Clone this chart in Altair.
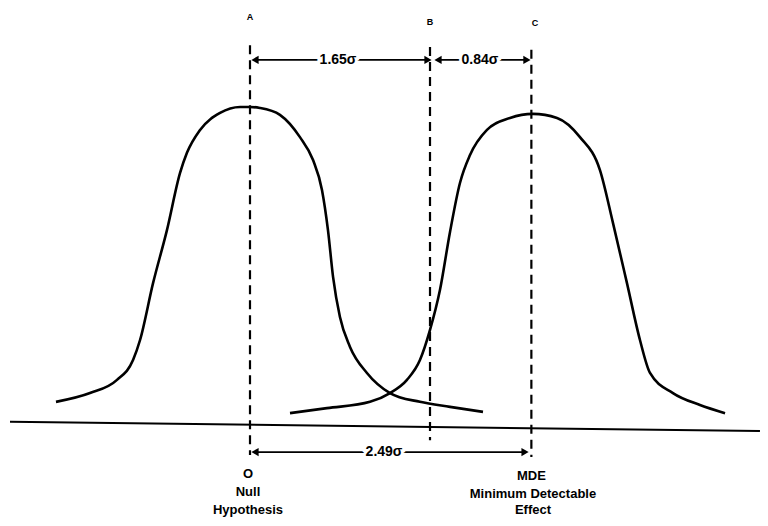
import altair as alt
import pandas as pd

# ---- data (x in sigma units from the null mean, y = relative curve height) ----
left_x = [-1.717, -1.416, -1.177, -1.035, -0.973, -0.858, -0.735, -0.619, -0.558, -0.442,
          -0.265, -0.088, 0.0, 0.088, 0.265, 0.442, 0.558, 0.637, 0.690, 0.735, 0.796,
          0.885, 1.035, 1.239, 1.504, 1.770, 2.062]
left_y = [0.061, 0.089, 0.131, 0.194, 0.258, 0.439, 0.608, 0.790, 0.854, 0.927,
          0.981, 1.000, 1.000, 0.997, 0.975, 0.904, 0.831, 0.736, 0.608, 0.459, 0.331,
          0.236, 0.153, 0.089, 0.061, 0.045, 0.029]

right_x = [0.354, 0.681, 1.062, 1.239, 1.389, 1.504, 1.593, 1.681, 1.770, 1.858, 1.947,
           2.097, 2.301, 2.504, 2.717, 2.920, 3.097, 3.212, 3.336, 3.451, 3.540, 3.743,
           3.982, 4.204]
right_y = [0.025, 0.041, 0.061, 0.089, 0.131, 0.194, 0.290, 0.417, 0.602, 0.758, 0.847,
           0.927, 0.965, 0.978, 0.965, 0.904, 0.799, 0.631, 0.439, 0.258, 0.153, 0.089,
           0.051, 0.025]

base_x = [-2.124, 4.513]
base_y = [-0.002, -0.032]

guide_labels = ["A", "B", "C"]
guide_x = [0.0, 1.593, 2.49]
guide_top = [1.197, 1.191, 1.182]
guide_bottom = [-0.108, -0.061, -0.115]
guide_label_x = [0.0, 1.593, 2.522]
guide_label_y = [1.287, 1.271, 1.268]

arrow_text = ["1.65σ", "0.84σ", "2.49σ"]
arrow_start = [0.044, 1.664, 0.044]
arrow_end = [1.575, 2.451, 2.434]
arrow_y = [1.150, 1.150, -0.099]
arrow_text_x = [0.779, 2.035, 1.186]

bottom_text = ["O", "Null", "Hypothesis", "MDE", "Minimum Detectable", "Effect"]
bottom_x = [-0.018, -0.018, -0.018, 2.49, 2.504, 2.504]
bottom_y = [-0.168, -0.225, -0.282, -0.175, -0.232, -0.283]

# ---- tables ----
curves = pd.DataFrame({
    "x": left_x + right_x,
    "y": left_y + right_y,
    "curve": ["null"] * len(left_x) + ["mde"] * len(right_x),
    "i": list(range(len(left_x))) + list(range(len(right_x))),
})
base = pd.DataFrame({"x": base_x, "y": base_y})
guides = pd.DataFrame({"label": guide_labels, "x": guide_x, "top": guide_top,
                       "bottom": guide_bottom, "lx": guide_label_x, "ly": guide_label_y})
arrows = pd.DataFrame({"text": arrow_text, "x1": arrow_start, "x2": arrow_end,
                       "y": arrow_y, "tx": arrow_text_x})
bottom = pd.DataFrame({"text": bottom_text, "x": bottom_x, "y": bottom_y})

XS = alt.Scale(domain=[-2.1416, 4.5133], nice=False, zero=False)
YS = alt.Scale(domain=[-0.3089, 1.3153], nice=False, zero=False)
FONT = "Liberation Sans"


def X(f):
    return alt.X(f, type="quantitative", scale=XS, axis=None)


def Y(f):
    return alt.Y(f, type="quantitative", scale=YS, axis=None)


curve_layer = alt.Chart(curves).mark_line(color="black", strokeWidth=2.6,
                                          interpolate="monotone").encode(
    x=X("x"), y=Y("y"), detail="curve:N", order="i:Q")

base_layer = alt.Chart(base).mark_line(color="black", strokeWidth=2).encode(
    x=X("x"), y=Y("y"))

guide_layer = alt.Chart(guides).mark_rule(color="black", strokeWidth=2.2,
                                          strokeDash=[9, 6]).encode(
    x=X("x"), y=Y("top"), y2="bottom")

guide_text = alt.Chart(guides).mark_text(font=FONT, fontWeight="bold", fontSize=9,
                                         color="black").encode(
    x=X("lx"), y=Y("ly"), text="label")

arrow_line = alt.Chart(arrows).mark_rule(color="black", strokeWidth=1.6).encode(
    x=X("x1"), x2="x2", y=Y("y"))

arrow_left = alt.Chart(arrows).mark_point(shape="triangle-left", filled=True, size=70,
                                          color="black", opacity=1).encode(
    x=X("x1"), y=Y("y"))
arrow_right = alt.Chart(arrows).mark_point(shape="triangle-right", filled=True, size=70,
                                           color="black", opacity=1).encode(
    x=X("x2"), y=Y("y"))

arrow_halo = alt.Chart(arrows).mark_text(font=FONT, fontWeight="bold", fontSize=14,
                                         color="white", stroke="white",
                                         strokeWidth=6).encode(
    x=X("tx"), y=Y("y"), text="text")
arrow_label = alt.Chart(arrows).mark_text(font=FONT, fontWeight="bold", fontSize=14,
                                          color="black").encode(
    x=X("tx"), y=Y("y"), text="text")

bottom_label = alt.Chart(bottom).mark_text(font=FONT, fontWeight="bold", fontSize=13,
                                           color="black").encode(
    x=X("x"), y=Y("y"), text="text")

chart = alt.layer(
    base_layer, curve_layer, guide_layer, arrow_line, arrow_left, arrow_right,
    arrow_halo, arrow_label, guide_text, bottom_label
).properties(
    width=752, height=510,
    autosize=alt.AutoSizeParams(type="none"),
    padding=0,
    background="white",
).configure_view(stroke=None)

chart.save("out.html", embed_options={"renderer": "svg", "actions": False})
